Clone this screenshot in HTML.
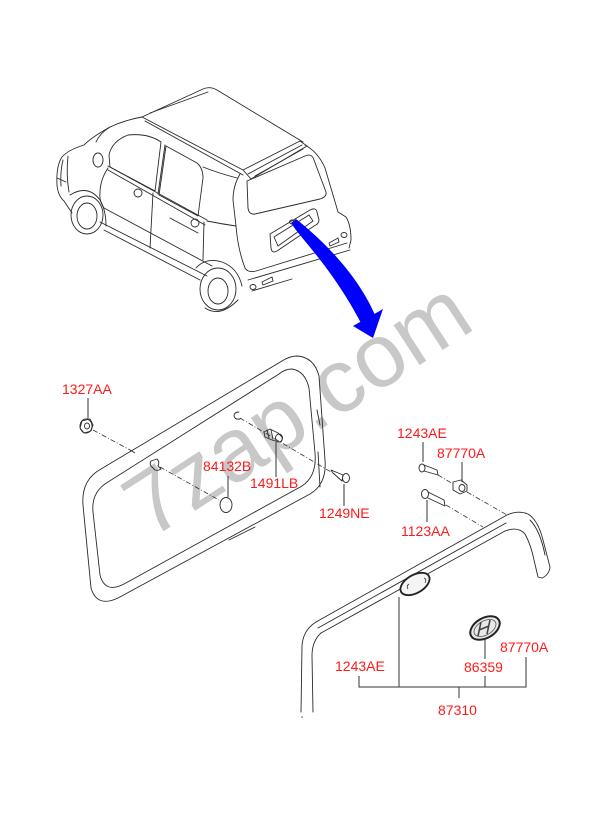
<!DOCTYPE html>
<html><head><meta charset="utf-8"><style>
html,body{margin:0;padding:0;background:#fff;}
svg{display:block;}
.l{fill:none;stroke:#2a2a2a;stroke-width:0.9;stroke-linejoin:round;stroke-linecap:round;}
.d{fill:none;stroke:#333;stroke-width:0.8;stroke-dasharray:5 2 1 2;}
.t{font-family:"Liberation Sans",Arial,sans-serif;font-size:14px;fill:#ff1a1a;}
.ld{fill:none;stroke:#333;stroke-width:1;}
</style></head><body>
<svg width="600" height="819" viewBox="0 0 600 819" xmlns="http://www.w3.org/2000/svg">
<rect width="600" height="819" fill="#fff"/>
<!-- watermark -->
<text x="0" y="0" transform="translate(150,540) rotate(-33)" font-family="Liberation Sans, Arial, sans-serif" font-size="90" fill="#c8c8c8">7zap.com</text>

<!-- CAR -->
<g class="l">
<!-- roof -->
<path d="M142,117 L203,89 Q210,86 217,90 L303,142"/>
<path d="M142,117 L243,170"/>
<path d="M145,121 L243,175"/>
<path d="M150,113 L208,92"/>
<!-- spoiler -->
<path d="M243,170 L300,141 L307,146 L251,179 Z"/>
<path d="M248,174 L302,145"/>
<path d="M255,176 L303,149"/>
<!-- front -->
<path d="M142,117 Q125,120 110,127 Q92,137 84,145 Q68,150 62,157 Q56,166 57,185 Q58,196 64,201 L72,213"/>
<path d="M110,127 Q100,133 96,142"/>
<path d="M63,160 Q60,172 61,186"/>
<path d="M68,156 Q66,175 69,192"/>
<path d="M57,178 L66,182"/>
<ellipse cx="98" cy="160" rx="5" ry="7"/>
<!-- side windows -->
<path d="M110,167 L109,155 Q112,141 128,135 Q148,133 161,142 L155,191 Z"/>
<path d="M166,146 L197,163 Q203,168 203,178 L198,216 L159,195 Z"/>
<path d="M165,145 L158,194"/>
<path d="M108,166 L207,220"/>
<path d="M108,170 L205,225"/>
<path d="M153,193 L150,248"/>
<path d="M204,222 L203,260"/>
<ellipse cx="138" cy="193" rx="4" ry="4"/>
<ellipse cx="195" cy="223" rx="4" ry="4"/>
<path d="M108,168 Q100,180 100,193 Q99,201 104,208 L212,266"/>
<path d="M100,222 L207,276"/>
<path d="M104,230 L200,280"/>
<path d="M170,218 L198,233"/>
<!-- front wheel -->
<path d="M70,195 Q88,184 100,200 Q106,210 106,226"/>
<ellipse cx="87" cy="215" rx="16" ry="19"/>
<ellipse cx="87" cy="216" rx="10" ry="13"/>
<!-- rear quarter -->
<path d="M203,167 Q218,173 237,178"/>
<path d="M207,221 Q222,224 236,226"/>
<!-- hatch -->
<path d="M240,174 Q233,186 233,200 L236,226 Q238,250 245,268"/>
<path d="M305,145 Q318,152 325,168 L333,195 Q336,205 338,212"/>
<path d="M247,181 L305,156 Q312,153 314,160 L326,192 Q327,197 320,199 L255,214 Q249,215 248,208 Z"/>
<!-- license recess -->
<path d="M270,234 L310,210 Q316,207 317,212 L319,220 Q319,224 314,226 L277,251 Q272,254 271,248 Z"/>
<path d="M274,237 L309,215 L313,221 L278,246 Z"/>
<!-- bumper -->
<path d="M338,212 L346,217 Q351,225 351,240 L349,248"/>
<path d="M245,268 Q248,273 256,271 L347,243"/>
<path d="M248,280 L350,250"/>
<path d="M252,291 L292,279"/>
<ellipse cx="253" cy="287" rx="3" ry="2.5"/>
<path d="M262,282 L272,277 L273,281 L263,285 Z"/>
<path d="M329,243 L338,238 L339,242 L330,246 Z"/>
<ellipse cx="344" cy="235" rx="3" ry="2.5"/>
<!-- rear wheel -->
<path d="M196,268 Q206,257 222,262 Q238,268 242,286"/>
<ellipse cx="218" cy="289" rx="18" ry="21"/>
<ellipse cx="218" cy="291" rx="10" ry="13"/>
<path d="M205,308 Q220,318 238,300"/>
</g>
<!-- blue arrow -->
<path d="M291,223 C302,240 332,268 361,323 L375,315 C360,280 330,246 296,219 Z" fill="#0000ff"/>
<polygon points="353,326 383,309 373,338" fill="#0000ff"/>
<ellipse cx="292" cy="222" rx="2.5" ry="2" fill="none" stroke="#222" stroke-width="0.9"/>

<!-- GLASS PANEL -->
<g class="l">
<path d="M297,356 Q314,357 319,376 L325,460 Q327,484 310,494 L118,598 Q97,608 91,588 L83,505 Q81,480 101,469 L282,361 Q290,356 297,356 Z"/>
<path d="M292,369 Q305,371 309,388 L315,453 Q317,476 302,486 L124,584 Q105,594 100,575 L93,512 Q91,492 108,482 L279,374 Q285,369 292,369 Z"/>
<path d="M317,410 L320,425"/>
<path d="M318,452 L320,487"/>
<path d="M229,540 L255,527"/>
</g>

<!-- MOLDING 87310 -->
<g class="l">
<path d="M316,622 L507,515 Q518,510 528,514 Q538,520 543,540 L550,567 Q549,575 542,578"/>
<path d="M505,531 Q518,526 525,534 Q531,545 534,560 L538,577 L542,578"/>
<path d="M505,531 L321,633"/>
<path d="M506,523 L318,628"/>
<path d="M316,622 Q303,630 302,646 L301,712"/>
<path d="M321,633 Q312,641 312,656 L313,712"/>
<path d="M530,520 Q540,530 545,555"/>
</g>
<circle cx="302" cy="717" r="0.8" fill="#555"/>
<!-- emblem hole -->
<ellipse cx="415" cy="584" rx="16" ry="9" transform="rotate(-30 415 584)" fill="#f4f4f4" stroke="#222" stroke-width="1.8"/>
<path d="M409,584 q-3,2 -1,5 M424,578 q3,1 1,5" fill="none" stroke="#333" stroke-width="0.8"/>
<!-- emblem 86359 -->
<ellipse cx="485" cy="628" rx="16" ry="10" transform="rotate(-30 485 628)" fill="#e8e8e8" stroke="#222" stroke-width="2"/>
<ellipse cx="485" cy="628" rx="12" ry="7" transform="rotate(-30 485 628)" fill="none" stroke="#555" stroke-width="0.8"/>
<path d="M478,636 L481,622 M490,620 L487,634 M479,630 L489,626" fill="none" stroke="#444" stroke-width="1.6"/>

<!-- small parts -->
<g class="l">
<!-- nut 1327AA -->
<ellipse cx="86" cy="426" rx="6" ry="7"/>
<path d="M82,421 L90,419 L93,425 L91,431 L84,433 L80,428 Z"/>
<ellipse cx="87" cy="426" rx="2.5" ry="3"/>
<!-- clip 84132B -->
<path d="M151,461 L157,459 Q160,462 158,466 L161,469 Q158,471 155,470 L152,467 Q149,465 151,461 Z"/>
<!-- grommet -->
<ellipse cx="226" cy="505" rx="6" ry="7.5"/>
<!-- ring -->
<path d="M239,412 Q234,412 234,416 Q235,420 240,419"/>
<!-- clip 1491LB -->
<path d="M264,432 L270,429 L278,433 L282,437 Q283,442 279,442 L272,440 L265,437 Z"/>
<ellipse cx="279" cy="438" rx="3.5" ry="4"/>
<path d="M267,430 L269,438 M271,430 L273,439"/>
<!-- screw 1249NE -->
<path d="M331,470 L343,475 L342,481 L333,473 Z"/>
<ellipse cx="346" cy="478" rx="3.5" ry="4.5"/>
<!-- bolt 1243AE -->
<path d="M424,465 L437,470 L438,475 L424,471"/>
<ellipse cx="422" cy="468" rx="3" ry="4"/>
<!-- nut 87770A -->
<path d="M453,482 L461,480 L467,485 L467,491 L460,494 L453,490 Z"/>
<ellipse cx="462" cy="488" rx="3" ry="3.5"/>
<!-- bolt 1123AA -->
<path d="M428,492 L444,500 L445,506 L428,498"/>
<ellipse cx="425" cy="494" rx="3.5" ry="4.5"/>
</g>

<!-- dashed leaders -->
<path class="d" d="M93,430 L132,451"/>
<path class="ld" d="M130,450 L135,453"/>
<path class="d" d="M160,467 L219,500"/>
<path class="d" d="M240,418 L331,472"/>
<path class="d" d="M438,475 L453,484"/>
<path class="d" d="M467,492 L507,515"/>
<path class="d" d="M446,505 L483,527"/>

<!-- solid label leaders -->
<g class="ld">
<path d="M88,398 L88,420"/>
<path d="M228,476 L228,497"/>
<path d="M276,442 L276,477"/>
<path d="M344,484 L344,506"/>
<path d="M423,442 L423,462"/>
<path d="M462,462 L462,482"/>
<path d="M427,500 L427,522"/>
<path d="M359,676 L359,687 L526,687 L526,657"/>
<path d="M399,597 L399,687"/>
<path d="M485,638 L485,659"/>
<path d="M485,676 L485,687"/>
<path d="M459,687 L459,698"/>
</g>

<!-- labels -->
<text class="t" x="62" y="394">1327AA</text>
<text class="t" x="203" y="471">84132B</text>
<text class="t" x="250" y="488">1491LB</text>
<text class="t" x="319" y="518">1249NE</text>
<text class="t" x="397" y="438">1243AE</text>
<text class="t" x="437" y="458">87770A</text>
<text class="t" x="401" y="536">1123AA</text>
<text class="t" x="335" y="671">1243AE</text>
<text class="t" x="464" y="672">86359</text>
<text class="t" x="500" y="652">87770A</text>
<text class="t" x="438" y="715">87310</text>
</svg>
</body></html>
